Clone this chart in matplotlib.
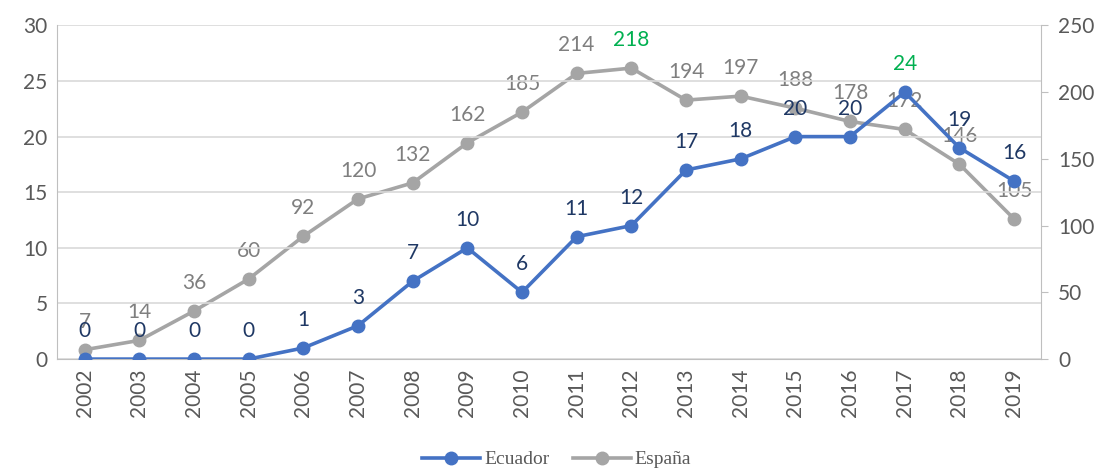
import matplotlib.pyplot as plt
import numpy as np

# datos
anios = ['2002', '2003', '2004', '2005', '2006', '2007', '2008', '2009', '2010',
         '2011', '2012', '2013', '2014', '2015', '2016', '2017', '2018', '2019']
ecuador = [0, 0, 0, 0, 1, 3, 7, 10, 6, 11, 12, 17, 18, 20, 20, 24, 19, 16]
espana = [7, 14, 36, 60, 92, 120, 132, 162, 185, 214, 218, 194, 197, 188, 178, 172, 146, 105]

azul = '#4472C4'
gris = '#A5A5A5'
fuente = ['Lato', 'DejaVu Sans']

fig = plt.figure(figsize=(11.02, 4.7), dpi=100)
ax = fig.add_axes([0.052, 0.236, 0.893, 0.71])
ax2 = ax.twinx()

x = np.arange(len(anios))

ax.plot(x, ecuador, color=azul, lw=2.6, marker='o', ms=9, zorder=3, label='Ecuador')
ax2.plot(x, espana, color=gris, lw=2.6, marker='o', ms=9, zorder=2, label='España')
ax.set_zorder(ax2.get_zorder() + 1)
ax.patch.set_visible(False)

for i, v in enumerate(ecuador):
    c = '#00B050' if v == max(ecuador) else '#1F3864'
    ax.annotate(str(v), (x[i], v), xytext=(0, 13), textcoords='offset points',
                ha='center', va='bottom', fontsize=15, color=c, family=fuente)
for i, v in enumerate(espana):
    c = '#00B050' if v == max(espana) else '#7F7F7F'
    ax2.annotate(str(v), (x[i], v), xytext=(0, 13), textcoords='offset points',
                 ha='center', va='bottom', fontsize=15, color=c, family=fuente)

ax.set_xlim(-0.5, len(anios) - 0.5)
ax.set_ylim(0, 30)
ax2.set_ylim(0, 250)
ax.set_yticks(range(0, 31, 5))
ax2.set_yticks(range(0, 251, 50))
ax.set_xticks(x)
ax.set_xticklabels(anios, rotation=90)

ax.grid(axis='y', color='#D9D9D9', lw=1.2)
ax.set_axisbelow(True)

for a in (ax, ax2):
    for s in a.spines.values():
        s.set_visible(False)
    for lab in a.get_xticklabels() + a.get_yticklabels():
        lab.set_family(fuente)
        lab.set_fontsize(15)
        lab.set_color('#595959')
ax.spines['left'].set_visible(True)
ax.spines['left'].set_color('#BFBFBF')
ax.spines['bottom'].set_visible(True)
ax.spines['bottom'].set_color('#BFBFBF')
ax2.spines['right'].set_visible(True)
ax2.spines['right'].set_color('#BFBFBF')
ax.tick_params(axis='both', length=0, pad=7)
ax2.tick_params(axis='y', length=5, color='#BFBFBF', pad=7)

h1, l1 = ax.get_legend_handles_labels()
h2, l2 = ax2.get_legend_handles_labels()
fig.legend(h1 + h2, l1 + l2, loc='center', bbox_to_anchor=(0.505, 0.022), ncol=2,
           frameon=False, prop={'family': 'Liberation Serif', 'size': 14},
           handlelength=3, columnspacing=1.2, handletextpad=0.2, labelcolor='#595959')

fig.savefig('out.png', dpi=100)
